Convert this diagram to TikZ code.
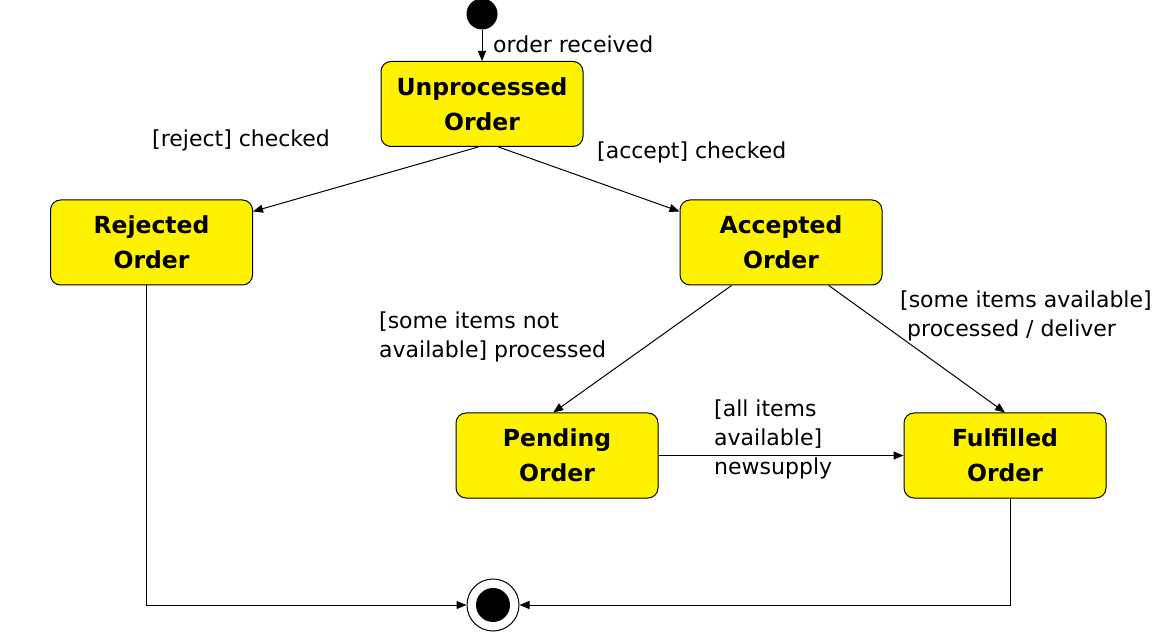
\documentclass[tikz,border=0pt]{standalone}
\usepackage{fontspec}
\setmainfont{DejaVu Sans}
\usetikzlibrary{arrows.meta}
\begin{document}
\begin{tikzpicture}[x=1pt,y=-1pt,
	state/.style={draw=black,fill=yellow,rounded corners=10pt,line width=1pt,minimum width=202pt,minimum height=85pt,align=center,font=\fontsize{23.5}{35}\selectfont\bfseries},
	trans/.style={-{Triangle[length=10pt,width=8pt]},line width=1pt},
	lbl/.style={anchor=west,inner sep=0pt,align=left,font=\fontsize{22}{29}\selectfont}]
	\useasboundingbox (0,0) rectangle (1163,636);
	\node[circle,fill=black,minimum size=31pt,inner sep=0pt] (start) at (482,14) {};
	\node[state] (unproc) at (482,104) {Unprocessed\\Order};
	\node[state] (rej) at (151.5,242.5) {Rejected\\Order};
	\node[state] (acc) at (781,242.5) {Accepted\\Order};
	\node[state] (pend) at (557,455.5) {Pending\\Order};
	\node[state] (fulf) at (1005,455.5) {Fulfilled\\Order};
	\node[circle,draw=black,line width=1pt,minimum size=52pt,inner sep=0pt] (final) at (493,605) {};
	\node[circle,fill=black,minimum size=34pt,inner sep=0pt] (finaldot) at (final.center) {};
	\draw[trans] (start.south) -- (unproc.north);
	\draw[trans] (unproc.265) -- (rej.17);
	\draw[trans] (unproc.291) -- (acc.163);
	\draw[trans] (acc.221) -- (pend.95);
	\draw[trans] (acc.318) -- (fulf.north);
	\draw[trans] (pend.east) -- (fulf.west);
	\draw[trans] (rej.264) |- (final.west);
	\draw[trans] (fulf.277) |- (final.east);
	\node[lbl] (lrecv) at (493,44) {order received};
	\node[lbl] (lrej) at (152,140) {[reject] checked};
	\node[lbl] (lacc) at (597,152) {[accept] checked};
	\node[lbl] (lnot) at (379,336.5) {[some items not\\available] processed};
	\node[lbl] (lsome) at (900,315.5) {[some items available]\\\hspace{7pt}processed / deliver};
	\node[lbl] (lall) at (714,439) {[all items\\available]\\newsupply};
\end{tikzpicture}
\end{document}
